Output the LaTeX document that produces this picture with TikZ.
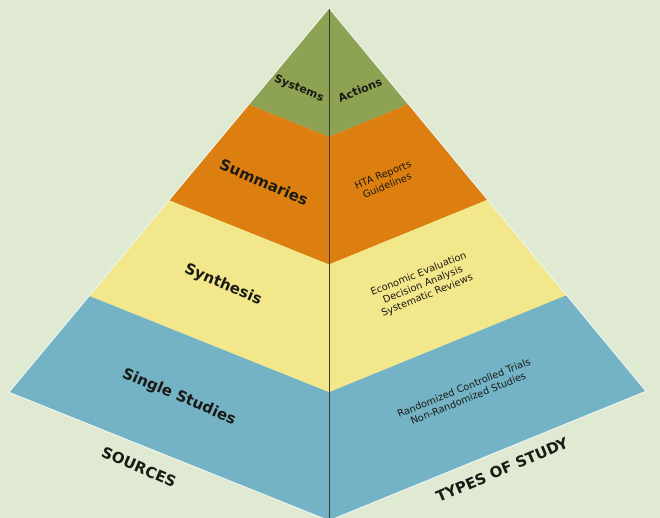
\documentclass[tikz,border=0pt]{standalone}
\usepackage{fontspec}
\setmainfont{DejaVu Sans}
\usetikzlibrary{calc}
\definecolor{bgc}{HTML}{E0EAD3}
\definecolor{lvgreen}{HTML}{8EA254}
\definecolor{lvorange}{HTML}{DD7F10}
\definecolor{lvyellow}{HTML}{F3E78B}
\definecolor{lvblue}{HTML}{74B3C6}
\definecolor{midline}{HTML}{3C3A2A}
\definecolor{halo}{HTML}{EDF5EE}
\definecolor{ink}{HTML}{1A1A14}
\begin{document}
\begin{tikzpicture}[x=1pt,y=-1pt,
  bigleft/.style={font=\fontsize{15}{17}\selectfont\bfseries, text=ink, rotate=-23, inner sep=0pt},
  bigright/.style={font=\fontsize{15}{17}\selectfont\bfseries, text=ink, rotate=23, inner sep=0pt},
  toplbl/.style={font=\fontsize{11}{13}\selectfont\bfseries, text=ink, inner sep=0pt},
  smalltxt/.style={font=\fontsize{9.8}{11.5}\selectfont, text=ink, rotate=22, align=center, inner sep=0pt}]
\fill[bgc] (0,0) rectangle (660,518);
\useasboundingbox (0,0) rectangle (660,518);
\clip (0,0) rectangle (660,518);
% pyramid corners
\coordinate (A) at (329,9);
\coordinate (L) at (10,392);
\coordinate (R) at (645,391);
\coordinate (B) at (329,520);
\foreach \t/\n in {0.25/a,0.5/b,0.75/c}{
  \coordinate (L\n) at ($(A)!\t!(L)$);
  \coordinate (R\n) at ($(A)!\t!(R)$);
  \coordinate (C\n) at ($(A)!\t!(B)$);
}
% halo outline
\draw[halo, line width=2.2pt, line join=round] (A) -- (L) -- (B) -- (R) -- cycle;
% layers
\fill[lvgreen] (A) -- (La) -- (Ca) -- (Ra) -- cycle;
\fill[lvorange] (La) -- (Lb) -- (Cb) -- (Rb) -- (Ra) -- (Ca) -- cycle;
\fill[lvyellow] (Lb) -- (Lc) -- (Cc) -- (Rc) -- (Rb) -- (Cb) -- cycle;
\fill[lvblue] (Lc) -- (L) -- (B) -- (R) -- (Rc) -- (Cc) -- cycle;
% central edge
\draw[midline, line width=0.9pt] (A) -- (B);
% labels
\node[toplbl, rotate=-22] (systems) at (299,89) {Systems};
\node[toplbl, rotate=22] (actions) at (360,90) {Actions};
\node[bigleft] (summaries) at (264,182) {Summaries};
\node[smalltxt] (hta) at (385,180) {HTA Reports\\Guidelines};
\node[bigleft] (synthesis) at (223,285) {Synthesis};
\node[smalltxt] (econ) at (423,285) {Economic Evaluation\\Decision Analysis\\Systematic Reviews};
\node[bigleft] (single) at (179,397) {Single Studies};
\node[smalltxt] (rct) at (466,393) {Randomized Controlled Trials\\Non-Randomized Studies};
\node[bigleft] (sources) at (139,467) {SOURCES};
\node[bigright] (types) at (502,470) {TYPES OF STUDY};
\end{tikzpicture}
\end{document}
